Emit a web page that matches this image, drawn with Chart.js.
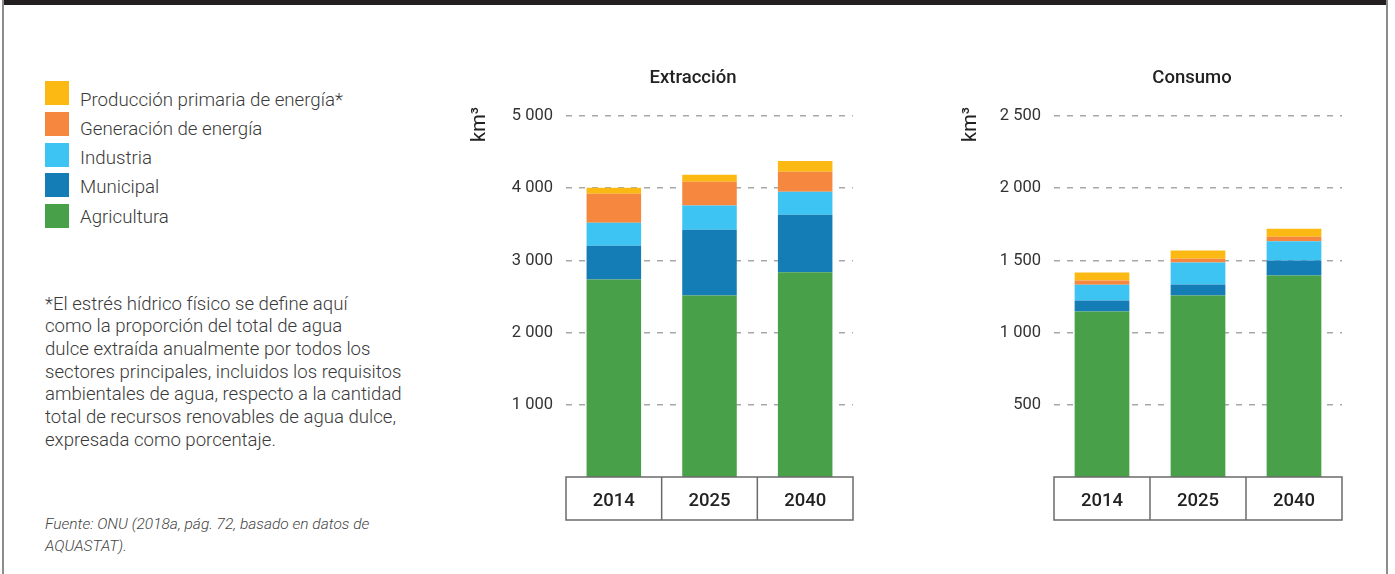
<!DOCTYPE html>
<html>
<head>
<meta charset="utf-8">
<script src="https://cdn.jsdelivr.net/npm/chart.js@4.4.1/dist/chart.umd.min.js"></script>
<style>
  html, body { margin:0; padding:0; width:1395px; height:574px; overflow:hidden; background:#fff; font-family: Roboto, "Noto Sans", sans-serif; }
  #topbar { position:absolute; left:2px; top:0; width:1386px; height:5px; background:#231f20; }
  #frameL { position:absolute; left:2px; top:0; width:2px; height:574px; background:#8c8c8c; }
  #frameR { position:absolute; left:1386px; top:0; width:2px; height:574px; background:#8c8c8c; }
  .sw { position:absolute; left:45px; width:24px; height:24px; }
  .lab { position:absolute; left:80px; height:24px; line-height:24px; font-size:18.7px; font-weight:300; color:#3a3a3a; white-space:nowrap; }
  #note { position:absolute; left:45px; top:292.6px; font-size:18.6px; font-weight:300; line-height:22.7px; color:#3a3a3a; white-space:nowrap; }
  #src { position:absolute; left:45px; top:512.5px; font-size:15.5px; font-weight:300; line-height:22.5px; color:#444; font-style:italic; white-space:nowrap; }
  .cv { position:absolute; }
</style>
</head>
<body>
<div id="topbar"></div>
<div id="frameL"></div>
<div id="frameR"></div>
<div id="legend"></div>
<div id="note">*El estrés hídrico físico se define aquí<br>como la proporción del total de agua<br>dulce extraída anualmente por todos los<br>sectores principales, incluidos los requisitos<br>ambientales de agua, respecto a la cantidad<br>total de recursos renovables de agua dulce,<br>expresada como porcentaje.</div>
<div id="src">Fuente: ONU (2018a, pág. 72, basado en datos de<br>AQUASTAT).</div>
<canvas id="cExt" class="cv" width="466" height="470" style="left:460px;top:60px;"></canvas>
<canvas id="cCon" class="cv" width="488" height="470" style="left:948px;top:60px;"></canvas>
<script>
// ---- Data ----
const years = ['2014', '2025', '2040'];
const seriesNames = ['Agricultura', 'Municipal', 'Industria', 'Generación de energía', 'Producción primaria de energía*'];
const seriesColors = ['#48a148', '#147db5', '#3ec4f2', '#f5873f', '#fdb913'];

const extraccionAgricultura = [2735, 2514, 2836];
const extraccionMunicipal   = [469, 911, 797];
const extraccionIndustria   = [318, 336, 317];
const extraccionGeneracion  = [401, 327, 277];
const extraccionProduccion  = [83, 97, 151];

const consumoAgricultura = [1146, 1257, 1395];
const consumoMunicipal   = [76, 76, 104];
const consumoIndustria   = [109, 152, 133];
const consumoGeneracion  = [29, 27, 32];
const consumoProduccion  = [56, 56, 55];

const extraccionTicks = [1000, 2000, 3000, 4000, 5000];
const consumoTicks = [500, 1000, 1500, 2000, 2500];

// ---- Legend (HTML) ----
const legendEl = document.getElementById('legend');
for (let k = 0; k < seriesNames.length; k++) {
  const i = seriesNames.length - 1 - k;
  const sw = document.createElement('div');
  sw.className = 'sw';
  sw.style.top = (81 + k * 30.75) + 'px';
  sw.style.background = seriesColors[i];
  legendEl.appendChild(sw);
  const lb = document.createElement('div');
  lb.className = 'lab';
  lb.style.top = (99.7 - 12 + k * 29.25) + 'px';
  lb.textContent = seriesNames[i];
  legendEl.appendChild(lb);
}

// ---- Chart setup ----
Chart.defaults.font.family = 'Roboto, "Noto Sans", sans-serif';
Chart.defaults.animation = false;

function fmt(v) { return String(v).replace(/\B(?=(\d{3})+(?!\d))/g, ' '); }

const catBox = {
  id: 'catBox',
  afterDraw(chart, args, opts) {
    const x = chart.scales.x;
    const ca = chart.chartArea;
    const ctx = chart.ctx;
    const top = ca.bottom, bottom = ca.bottom + opts.height;
    ctx.save();
    ctx.strokeStyle = '#6b6b6b';
    ctx.lineWidth = 1.5;
    ctx.strokeRect(x.left, top, x.right - x.left, bottom - top);
    for (let i = 0; i < x.ticks.length - 1; i++) {
      const px = (x.getPixelForValue(i) + x.getPixelForValue(i + 1)) / 2;
      ctx.beginPath();
      ctx.moveTo(px, top);
      ctx.lineTo(px, bottom);
      ctx.stroke();
    }
    ctx.restore();
  }
};

const unitLabel = {
  id: 'unitLabel',
  afterDraw(chart, args, opts) {
    const ctx = chart.ctx;
    const ca = chart.chartArea;
    ctx.save();
    ctx.translate(opts.x, ca.top - 9);
    ctx.rotate(-Math.PI / 2);
    ctx.fillStyle = '#222';
    ctx.font = '20px Roboto, "Noto Sans", sans-serif';
    ctx.textAlign = 'right';
    ctx.textBaseline = 'middle';
    ctx.fillText(opts.text, 0, 0);
    ctx.restore();
  }
};

function makeChart(id, title, data, max, ticks, rightPad, unitX) {
  const datasets = data.map((d, i) => ({
    label: seriesNames[i],
    data: d,
    backgroundColor: seriesColors[i],
    borderWidth: 0,
    barPercentage: 0.57,
    categoryPercentage: 1.0
  }));
  return new Chart(document.getElementById(id), {
    type: 'bar',
    data: { labels: years, datasets },
    plugins: [catBox, unitLabel],
    options: {
      responsive: false,
      animation: false,
      layout: { padding: 0 },
      plugins: {
        legend: { display: false },
        tooltip: { enabled: false },
        title: {
          display: true, text: title, color: '#222',
          font: { size: 18.5, weight: 500 },
          padding: { top: 7.5, bottom: 26.3 }
        },
        catBox: { height: 43 },
        unitLabel: { text: 'km³', x: unitX }
      },
      scales: {
        x: {
          stacked: true,
          grid: { display: false },
          border: { display: false },
          ticks: { padding: 5, color: '#222', font: { size: 18.5, weight: 500 } },
          afterFit: s => { s.height = 53; }
        },
        y: {
          stacked: true,
          position: 'left',
          min: 0, max: max,
          afterBuildTicks: s => { s.ticks = ticks.map(v => ({ value: v })); },
          afterFit: s => { s.width = 106; },
          grid: { drawTicks: false, color: '#a8a8a8', lineWidth: 1.5 },
          border: { display: false, dash: [6, 7] },
          ticks: { padding: 13, color: '#333', font: { size: 16.5 }, callback: v => fmt(v) },
        },
        pad: {
          type: 'linear', position: 'right', display: true,
          grid: { display: false }, border: { display: false },
          ticks: { display: false },
          afterFit: s => { s.width = rightPad; }
        }
      }
    }
  });
}

makeChart('cExt', 'Extracción',
  [extraccionAgricultura, extraccionMunicipal, extraccionIndustria, extraccionGeneracion, extraccionProduccion],
  5000, extraccionTicks, 73, 20);
makeChart('cCon', 'Consumo',
  [consumoAgricultura, consumoMunicipal, consumoIndustria, consumoGeneracion, consumoProduccion],
  2500, consumoTicks, 94, 23);
</script>
</body>
</html>
